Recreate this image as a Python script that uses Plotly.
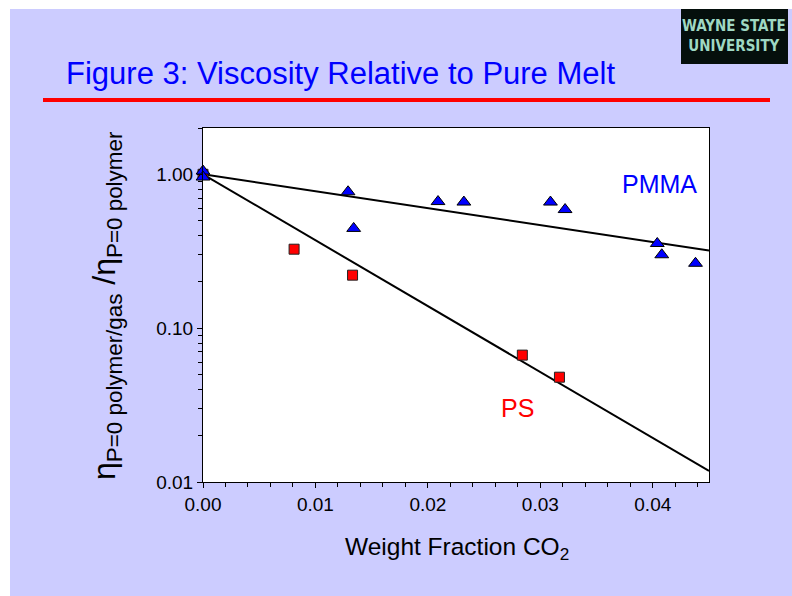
import plotly.graph_objects as go

# ---- data ----
pmma_x = [0.0, 0.0, 0.0129, 0.0134, 0.0209, 0.0232, 0.0309, 0.0322, 0.0404, 0.0408, 0.0438]
pmma_y = [1.05, 0.96, 0.77, 0.445, 0.665, 0.66, 0.66, 0.59, 0.355, 0.30, 0.264]
ps_x = [0.0, 0.0081, 0.0133, 0.0284, 0.0317]
ps_y = [1.0, 0.326, 0.221, 0.0668, 0.048]
fit_x = [0.0, 0.045]
pmma_fit = [1.0, 0.32]
ps_fit = [1.0, 0.0118]
x_ticks = [0.0, 0.01, 0.02, 0.03, 0.04]
y_ticks = [0.01, 0.1, 1.0]
y_ticktext = ["0.01", "0.10", "1.00"]
y_minor = [m * d for d in (0.01, 0.1, 1.0) for m in range(2, 10)]

FONT = "Liberation Sans, Arial, sans-serif"
LAV = "#CCCCFF"

fig = go.Figure()
fig.add_trace(go.Scatter(x=fit_x, y=pmma_fit, mode="lines",
                         line=dict(color="black", width=2), showlegend=False, hoverinfo="skip"))
fig.add_trace(go.Scatter(x=fit_x, y=ps_fit, mode="lines",
                         line=dict(color="black", width=2), showlegend=False, hoverinfo="skip"))
fig.add_trace(go.Scatter(x=ps_x, y=ps_y, mode="markers", name="PS", cliponaxis=False,
                         marker=dict(symbol="square", size=10, color="#FF0000",
                                     line=dict(color="#222222", width=1)), showlegend=False))
fig.add_trace(go.Scatter(x=pmma_x, y=pmma_y, mode="markers", name="PMMA", cliponaxis=False,
                         marker=dict(symbol="triangle-up", size=12, color="#0000FF",
                                     line=dict(color="black", width=1)), showlegend=False))

W, H = 792, 596
L, R, T, B = 203, 709, 128, 482
pw, ph = R - L, B - T

def px(x):
    return (x - L) / pw

def py(y):
    return (B - y) / ph

shapes = [
    # white page margins
    dict(type="rect", xref="paper", yref="paper", x0=px(0), x1=px(W), y0=py(9), y1=py(0),
         fillcolor="white", line=dict(width=0), layer="below"),
    dict(type="rect", xref="paper", yref="paper", x0=px(0), x1=px(10), y0=py(H), y1=py(0),
         fillcolor="white", line=dict(width=0), layer="below"),
    # red rule under title
    dict(type="line", xref="paper", yref="paper", x0=px(43), x1=px(770), y0=py(100), y1=py(100),
         line=dict(color="#FF0000", width=4)),
    # logo box
    dict(type="rect", xref="paper", yref="paper", x0=px(681), x1=px(788), y0=py(64), y1=py(9),
         fillcolor="#050f0c", line=dict(width=0)),
]

annotations = [
    dict(text="Figure 3: Viscosity Relative to Pure Melt", xref="paper", yref="paper",
         x=px(64), y=py(73), xanchor="left", yanchor="middle", showarrow=False,
         font=dict(family=FONT, size=31, color="#0000FF")),
    dict(text="<b>WAYNE STATE<br>UNIVERSITY</b>", xref="paper", yref="paper",
         x=px(734), y=py(36), xanchor="center", yanchor="middle", showarrow=False,
         font=dict(family="DejaVu Sans Condensed, DejaVu Sans", size=15, color="#9fd8c2")),
    dict(text="PMMA", xref="paper", yref="paper", x=px(659), y=py(184),
         xanchor="center", yanchor="middle", showarrow=False,
         font=dict(family=FONT, size=25, color="#0000FF")),
    dict(text="PS", xref="paper", yref="paper", x=px(517), y=py(408),
         xanchor="center", yanchor="middle", showarrow=False,
         font=dict(family=FONT, size=25, color="#FF0000")),
    dict(text="Weight Fraction CO<sub>2</sub>", xref="paper", yref="paper",
         x=px(457), y=py(548), xanchor="center", yanchor="middle", showarrow=False,
         font=dict(family=FONT, size=24.5, color="black")),
    dict(text="η<sub>P=0 polymer/gas</sub> /η<sub>P=0 polymer</sub>", xref="paper", yref="paper",
         x=px(106), y=py(306), xanchor="center", yanchor="middle", showarrow=False,
         textangle=-90, font=dict(family=FONT, size=32, color="black")),
]

fig.update_layout(
    width=W, height=H,
    margin=dict(l=L, r=W - R, t=T, b=H - B, pad=0),
    paper_bgcolor=LAV, plot_bgcolor="white",
    font=dict(family=FONT, color="black"),
    shapes=shapes, annotations=annotations, showlegend=False,
)
fig.update_xaxes(range=[0, 0.045], tickvals=x_ticks, tickformat=".2f",
                 showline=True, mirror=True, linecolor="black", linewidth=1,
                 ticks="outside", ticklen=5, tickcolor="black", showgrid=False, zeroline=False,
                 tickfont=dict(size=19, family=FONT, color="black"),
                 minor=dict(ticks="outside", ticklen=4, dtick=0.002, tick0=0, tickcolor="black", showgrid=False))
fig.update_yaxes(type="log", range=[-2, 0.301], tickvals=y_ticks, ticktext=y_ticktext,
                 showline=True, mirror=True, linecolor="black", linewidth=1,
                 ticks="outside", ticklen=5, tickcolor="black", showgrid=False, zeroline=False,
                 tickfont=dict(size=19, family=FONT, color="black"),
                 minor=dict(ticks="outside", ticklen=4, tickvals=y_minor, tickcolor="black", showgrid=False))

fig.write_html("out.html")
